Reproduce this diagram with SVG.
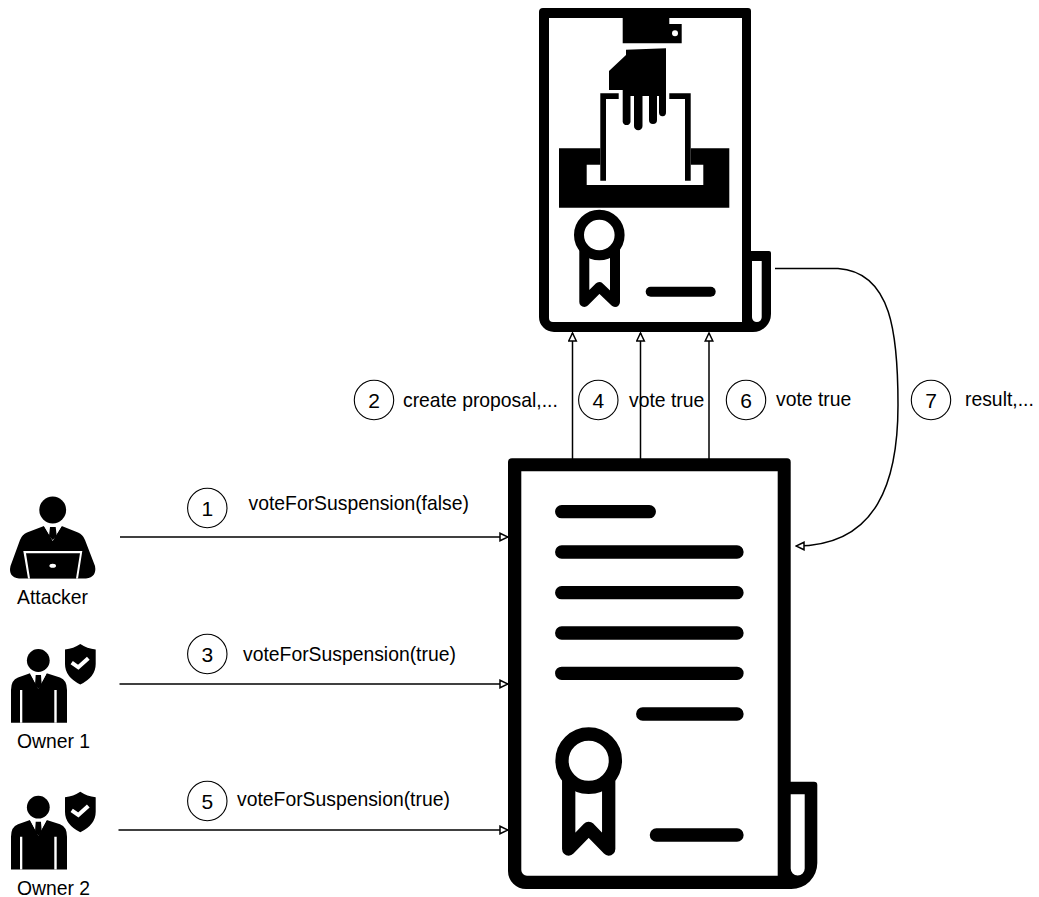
<svg xmlns="http://www.w3.org/2000/svg" width="1039" height="897" viewBox="0 0 1039 897">
<style>
text{font-family:"Liberation Sans",Arial,sans-serif;font-size:17px;fill:#000}
.d{font-size:21px;text-anchor:middle}
.l{font-size:19.35px}
.bub{fill:#fff;stroke:#000;stroke-width:1.1}
.cn{fill:none;stroke:#000;stroke-width:1.5}
.ic{fill:none;stroke:#000;stroke-linecap:round;stroke-linejoin:round}
.w{fill:#fff}
</style>
<defs>
<marker id="a" viewBox="0 0 10 10" refX="9" refY="5" markerWidth="10" markerHeight="10" markerUnits="userSpaceOnUse" orient="auto"><path d="M1 1.2L9 5L1 8.8Z" fill="#fff" stroke="#000" stroke-width="1.5"/></marker>
<g id="owner">
<circle cx="38.3" cy="660.5" r="11.4"/>
<path d="M30 673.3L18 677.500Q11 680 11 690V722.7H67V690Q67 680 60 677.500L46.700 673.300L38.300 688.300Z"/>
<path class="w" d="M20 690H22.300V722.700H20ZM54.300 690H56.700V722.700H54.300ZM30 673.300H46.700L38.300 689Z"/>
<path d="M35.700 675H41L41.700 685L38.300 689L35 685Z"/>
</g>
<path id="shield" d="M80.300 644Q87 648.500 95.700 649.500V664Q95.700 677 80.300 684.500Q65 677 65 664V649.500Q73.500 648.500 80.300 644Z"/>
</defs>
<g id="connectors">
<path class="cn" d="M120 537H508" marker-end="url(#a)"/>
<path class="cn" d="M119.500 684H508" marker-end="url(#a)"/>
<path class="cn" d="M118.500 830H508" marker-end="url(#a)"/>
<path class="cn" d="M572.500 459V333" marker-end="url(#a)"/>
<path class="cn" d="M640.500 459V333" marker-end="url(#a)"/>
<path class="cn" d="M709 459V333" marker-end="url(#a)"/>
<path class="cn" d="M775 268.500H838C892 272 898 335 898 405C898 480 878 546 796 546" marker-end="url(#a)"/>
</g>
<g id="voting-contract">
<path fill-rule="evenodd" d="M543 8H748Q751 8 751 11V332H554A15 15 0 0 1 539 317V12Q539 8 543 8ZM549 18V318A4 4 0 0 0 553 322H742V18Z"/>
<path d="M746 251H769Q771 251 771 253V314A18 18 0 0 1 753 332H746Z"/>
<path class="w" d="M752 261H761.700V317.200A4.850 4.850 0 0 1 752 317.200Z"/>
<path d="M622.700 17.300H669.300V24H681.700V43.300H622.700Z"/>
<circle class="w" cx="675" cy="33.300" r="3"/>
<path d="M559 148.300H729.300V207.700H559Z"/>
<path class="w" d="M586.700 164.700H703.300V185H586.700Z"/>
<path class="w" d="M600.300 147H690.700V166H600.300Z"/>
<path d="M618.700 93.300V99H606V180.700H600.300V93.300ZM669.300 93.300H690.700V180.700H685V99H669.300Z"/>
<path d="M626 49.700L666 48.300V112A3.500 4 0 0 1 659 112.500V96H657V120A4 4 0 0 1 649 120V96H642.500V126A4 4 0 0 1 634 126V96H630.500V122A4 4 0 0 1 622.700 122V90H609V71L626 55Z"/>
<circle class="ic" cx="599.300" cy="235" r="20.300" stroke-width="10"/>
<path class="ic" stroke-width="10" d="M584.300 250V302L599.300 287L615 302V250"/>
<path class="ic" stroke-width="10" d="M650.700 291.700H710.700"/>
</g>
<g id="token-contract">
<path fill-rule="evenodd" d="M512 458.300H787Q790.700 458.300 790.700 462V889H526A18 18 0 0 1 508 871V462Q508 458.300 512 458.300ZM521.300 471.300V870A5.700 5.700 0 0 0 527 875.700H777.700V471.300Z"/>
<path d="M784 781.700H814Q817.300 781.700 817.300 785V863A26 26 0 0 1 791.300 889H784Z"/>
<path class="w" d="M790.700 794.300H804.700V868.500A7 7 0 0 1 790.700 868.500Z"/>
<path class="ic" stroke-width="13.300" d="M561.700 511.700H649.300M561.700 552H737M561.700 592.700H737M561.700 633H737M561.700 673.300H737M642.700 714H737M656.400 835H737"/>
<circle class="ic" cx="588.700" cy="760.700" r="26.700" stroke-width="13.300"/>
<path class="ic" stroke-width="13.300" d="M568.700 780V849L588.700 828.300L608.700 849V780"/>
</g>
<g id="attacker">
<circle cx="52.700" cy="510" r="13.400"/>
<path d="M44 526L27 532.500Q22 534.500 20 540L10.500 566Q8 577 19 578.500H86Q97 577 95 566L85 540Q83 534.500 78 532.500L61.700 526L52.700 540Z"/>
<path class="w" d="M44 526H61.700L52.700 541ZM23.300 551H82.300L78 578.500H28Z"/>
<path d="M26 553.300H80L76 578.500H30ZM50 527H55.700L56.700 536L52.700 540L49 536Z"/>
<ellipse class="w" cx="52.700" cy="565.700" rx="3.300" ry="2"/>
<text class="l" x="17" y="604">Attacker</text>
</g>
<g id="owner-1">
<use href="#owner"/>
<use href="#shield"/>
<path d="M71.700 662.700L78.300 667.300L88.300 658.300" fill="none" stroke="#fff" stroke-width="4"/>
<text class="l" x="17" y="748">Owner 1</text>
</g>
<g id="owner-2">
<use href="#owner" y="146.700"/>
<use href="#shield" y="147.700"/>
<path d="M71.700 810.400L78.300 815L88.300 806" fill="none" stroke="#fff" stroke-width="4"/>
<text class="l" x="17" y="895">Owner 2</text>
</g>
<g id="label-1"><circle class="bub" cx="207.300" cy="508" r="19.700"/><text class="d" x="207.300" y="515.500">1</text><text class="l" x="248.500" y="510">voteForSuspension(false)</text></g>
<g id="label-2"><circle class="bub" cx="374" cy="400" r="19.700"/><text class="d" x="374" y="407.500">2</text><text class="l" x="403" y="407">create proposal,...</text></g>
<g id="label-3"><circle class="bub" cx="207.300" cy="654" r="19.700"/><text class="d" x="207.300" y="661.500">3</text><text class="l" x="243" y="661">voteForSuspension(true)</text></g>
<g id="label-4"><circle class="bub" cx="598.300" cy="400" r="19.700"/><text class="d" x="598.300" y="407.500">4</text><text class="l" x="629" y="407">vote true</text></g>
<g id="label-5"><circle class="bub" cx="207.300" cy="801" r="19.700"/><text class="d" x="207.300" y="808.500">5</text><text class="l" x="237" y="806">voteForSuspension(true)</text></g>
<g id="label-6"><circle class="bub" cx="746" cy="400" r="19.700"/><text class="d" x="746" y="407.500">6</text><text class="l" x="776" y="406">vote true</text></g>
<g id="label-7"><circle class="bub" cx="931" cy="400" r="19.700"/><text class="d" x="931" y="407.500">7</text><text class="l" x="965" y="406">result,...</text></g>
</svg>
